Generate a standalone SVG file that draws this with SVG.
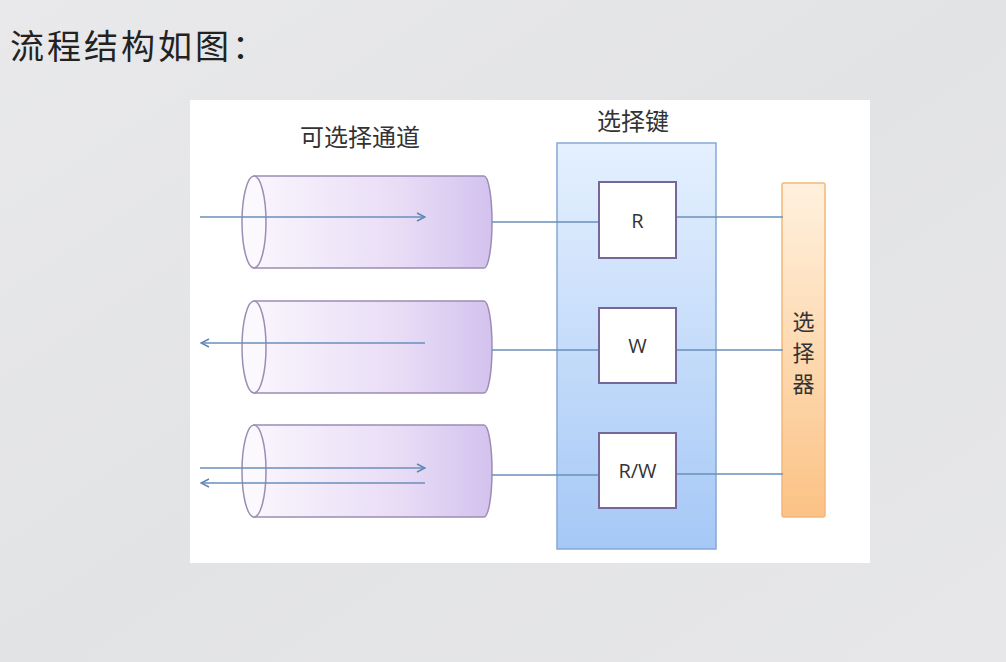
<svg xmlns="http://www.w3.org/2000/svg" width="1006" height="662" viewBox="0 0 1006 662">
<defs>
<linearGradient id="bg" x1="0" y1="0" x2="1" y2="1">
<stop offset="0" stop-color="#e9e9eb"/>
<stop offset="0.5" stop-color="#e2e3e5"/>
<stop offset="1" stop-color="#e7e7e9"/>
</linearGradient>
<linearGradient id="cyl" x1="0" y1="0" x2="1" y2="0">
<stop offset="0" stop-color="#f9f5fd"/>
<stop offset="0.6" stop-color="#e9ddf6"/>
<stop offset="1" stop-color="#d3c2ee"/>
</linearGradient>
<linearGradient id="keyg" x1="0" y1="0" x2="0" y2="1">
<stop offset="0" stop-color="#e5f0fe"/>
<stop offset="1" stop-color="#a5c8f6"/>
</linearGradient>
<linearGradient id="selg" x1="0" y1="0" x2="0" y2="1">
<stop offset="0" stop-color="#fff1de"/>
<stop offset="1" stop-color="#fbc285"/>
</linearGradient>
<marker id="arr" viewBox="0 0 10 10" refX="9" refY="5" markerWidth="10" markerHeight="10" markerUnits="userSpaceOnUse" orient="auto-start-reverse">
<path d="M1,1 L9,5 L1,9" fill="none" stroke="#5f86b4" stroke-width="1.5"/>
</marker>
<style>
.cyl{fill:url(#cyl);stroke:#9b8db4;stroke-width:1.5}
.cap{fill:#fbf9fe;stroke:#9b8db4;stroke-width:1.5}
.ln{fill:none;stroke:#6a8fba;stroke-width:1.5}
.box{fill:#ffffff;stroke:#76679a;stroke-width:2}
.t{font-family:"Noto Sans CJK SC","Noto Sans",sans-serif;fill:#333}
.lbl{font-family:"Open Sans","Noto Sans",sans-serif;font-size:20px;fill:#333;text-anchor:middle}
</style>
</defs>
<rect x="0" y="0" width="1006" height="662" fill="url(#bg)"/>
<text x="10" y="59" class="t" font-size="34" letter-spacing="3" style="fill:#222">流程结构如图：</text>
<rect x="190" y="100" width="680" height="463" fill="#ffffff"/>
<text x="360" y="146" class="t" font-size="24" text-anchor="middle">可选择通道</text>
<text x="633" y="130" class="t" font-size="24" text-anchor="middle">选择键</text>

<g id="channel1">
<path class="cyl" d="M254,176 H484 A8,46 0 0 1 484,268 H254 Z"/>
<ellipse class="cap" cx="254" cy="222" rx="12" ry="46"/>
</g>
<g id="channel2">
<path class="cyl" d="M254,301 H484 A8,46 0 0 1 484,393 H254 Z"/>
<ellipse class="cap" cx="254" cy="347" rx="12" ry="46"/>
</g>
<g id="channel3">
<path class="cyl" d="M254,425 H484 A8,46 0 0 1 484,517 H254 Z"/>
<ellipse class="cap" cx="254" cy="471" rx="12" ry="46"/>
</g>

<g id="keys">
<rect x="557" y="143" width="159" height="406" fill="url(#keyg)" stroke="#86a8d4" stroke-width="1.5"/>
</g>

<g id="selector">
<rect x="782" y="183" width="43" height="334" rx="2" fill="url(#selg)" stroke="#f3b877" stroke-width="1.5"/>
<text x="803.5" y="330" class="t" font-size="22" text-anchor="middle">选</text>
<text x="803.5" y="361" class="t" font-size="22" text-anchor="middle">择</text>
<text x="803.5" y="392" class="t" font-size="22" text-anchor="middle">器</text>
</g>

<g id="connectors">
<line class="ln" x1="200" y1="217" x2="425" y2="217" marker-end="url(#arr)"/>
<line class="ln" x1="425" y1="343" x2="201" y2="343" marker-end="url(#arr)"/>
<line class="ln" x1="200" y1="468" x2="425" y2="468" marker-end="url(#arr)"/>
<line class="ln" x1="425" y1="483" x2="201" y2="483" marker-end="url(#arr)"/>
<line class="ln" x1="492" y1="222" x2="599" y2="222"/>
<line class="ln" x1="492" y1="350" x2="599" y2="350"/>
<line class="ln" x1="492" y1="475" x2="599" y2="475"/>
<line class="ln" x1="676" y1="217" x2="783" y2="217"/>
<line class="ln" x1="676" y1="350" x2="783" y2="350"/>
<line class="ln" x1="676" y1="474" x2="783" y2="474"/>
</g>

<g id="keyR">
<rect class="box" x="599" y="182" width="77" height="76"/>
<text x="637.5" y="228" class="lbl">R</text>
</g>
<g id="keyW">
<rect class="box" x="599" y="308" width="77" height="75"/>
<text x="637.5" y="353" class="lbl">W</text>
</g>
<g id="keyRW">
<rect class="box" x="599" y="433" width="77" height="75"/>
<text x="637.5" y="478" class="lbl">R/W</text>
</g>
</svg>
